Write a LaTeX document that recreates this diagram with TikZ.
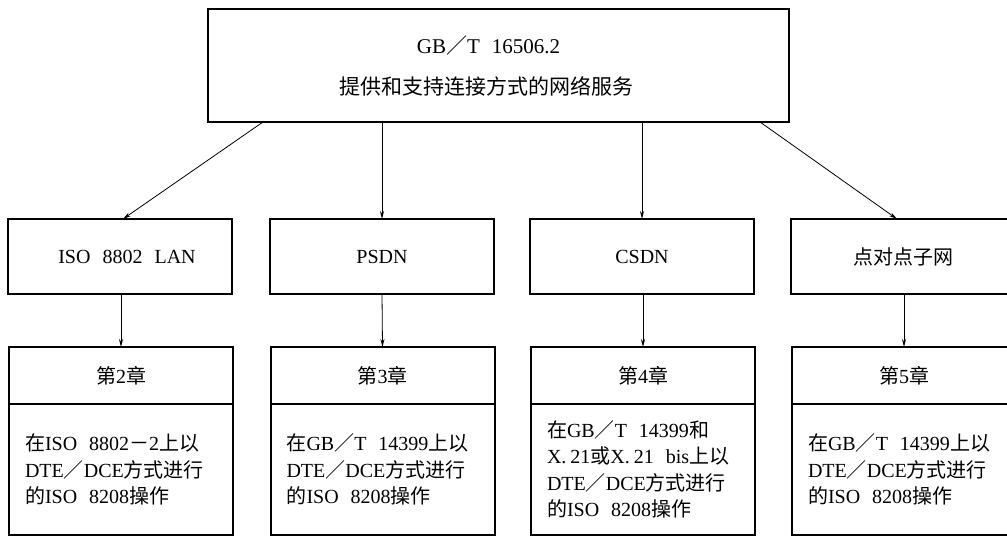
\documentclass[tikz,border=0pt]{standalone}
\usepackage{fontspec}
\setmainfont{Liberation Serif}
\newfontfamily\cjk{Noto Sans CJK SC}
\newcommand\zh[1]{{\cjk #1}}
\newcommand\gap{\hspace{12pt}}
\usetikzlibrary{arrows.meta,calc}
\tikzset{
  box/.style={draw=black, line width=2pt, rectangle, inner sep=0pt, outer sep=0pt, font=\fontsize{20pt}{26.5pt}\selectfont},
  body/.style={box, text width=192pt, align=left, inner xsep=16pt, minimum width=224pt, minimum height=131pt, anchor=north},
  titlebox/.style={box, minimum width=224pt, minimum height=57pt},
  netbox/.style={box, minimum width=224pt, minimum height=75pt},
  arr/.style={draw=black, line width=0.8pt, -{Stealth[length=8pt,width=4pt]}}
}
\begin{document}
\begin{tikzpicture}[x=1pt,y=-1pt]
\useasboundingbox (0,0) rectangle (1007,537);
\fill[white] (0,0) rectangle (1007,537);
\clip (0,0) rectangle (1007,537);

% top box
\node[box, minimum width=581pt, minimum height=113pt, align=center,
      font=\fontsize{21pt}{41pt}\selectfont] (T) at (498.5,65.5)
  {GB\zh{／}T\gap 16506.2\hspace*{20pt}\\ \zh{提供和支持连接方式的网络服务}\hspace*{24pt}};

% second row
\node[netbox] (A) at (120,256.5) {\hspace*{14pt}ISO\gap 8802\gap LAN};
\node[netbox] (B) at (382,256.5) {PSDN};
\node[netbox] (C) at (642,256.5) {CSDN};
\node[netbox] (D) at (903,256.5) {\zh{点对点子网}};

% third row titles
\node[titlebox] (A2) at (121,375.5) {\zh{第}2\zh{章}};
\node[titlebox] (B2) at (382.5,375.5) {\zh{第}3\zh{章}};
\node[titlebox] (C2) at (643,375.5) {\zh{第}4\zh{章}};
\node[titlebox] (D2) at (904,375.5) {\zh{第}5\zh{章}};

% third row bodies
\node[body] (A3) at (A2.south) {\zh{在}ISO\gap 8802\zh{－}2\zh{上以}\\DTE\zh{／}DCE\zh{方式进行}\\\zh{的}ISO\gap 8208\zh{操作}};
\node[body] (B3) at (B2.south) {\zh{在}GB\zh{／}T\gap 14399\zh{上以}\\DTE\zh{／}DCE\zh{方式进行}\\\zh{的}ISO\gap 8208\zh{操作}};
\node[body] (C3) at (C2.south) {\zh{在}GB\zh{／}T\gap 14399\zh{和}\\X.\hspace{4pt}21\zh{或}X.\hspace{4pt}21\gap bis\zh{上以}\\DTE\zh{／}DCE\zh{方式进行}\\\zh{的}ISO\gap 8208\zh{操作}};
\node[body] (D3) at (D2.south) {\zh{在}GB\zh{／}T\gap 14399\zh{上以}\\DTE\zh{／}DCE\zh{方式进行}\\\zh{的}ISO\gap 8208\zh{操作}};

% connectors from top
\draw[arr] ([xshift=55pt]T.south west) -- ([xshift=115pt]A.north west);
\draw[arr] (B.north |- T.south) -- (B.north);
\draw[arr] (C.north |- T.south) -- (C.north);
\draw[arr] ([xshift=-29pt]T.south east) -- ([xshift=106pt]D.north west);

% connectors second to third row
\draw[arr] (A2.north |- A.south) -- (A2.north);
\draw[arr] (B.south) -- (B2.north);
\draw[arr] (C2.north |- C.south) -- (C2.north);
\draw[arr] (D2.north |- D.south) -- (D2.north);
\end{tikzpicture}
\end{document}
